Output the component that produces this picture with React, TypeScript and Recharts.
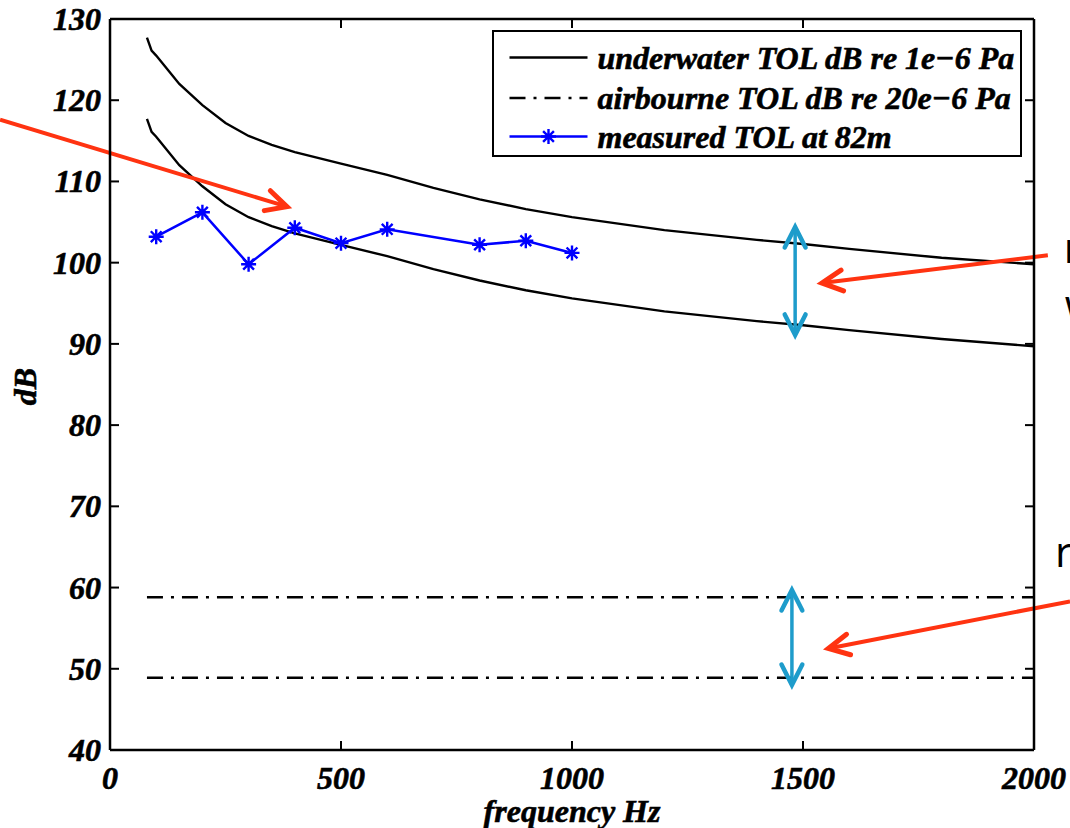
import React from 'react';
import { LineChart, Line, XAxis, YAxis, Legend, ReferenceLine, Label } from 'recharts';

// ---------- data ----------
const xTicks = [0, 500, 1000, 1500, 2000];
const yTicks = [40, 50, 60, 70, 80, 90, 100, 110, 120, 130];

const modelFreq = [80, 90, 100, 150, 200, 250, 300, 350, 400, 500, 600, 700, 800, 900, 1000, 1200, 1400, 1500, 1600, 1800, 2000];
const underwaterHigh = [127.7, 126.1, 125.5, 122.0, 119.4, 117.2, 115.6, 114.5, 113.6, 112.2, 110.8, 109.2, 107.8, 106.6, 105.6, 104.0, 102.8, 102.3, 101.7, 100.6, 99.8];
const underwaterLow = [117.7, 116.1, 115.5, 112.0, 109.4, 107.2, 105.6, 104.5, 103.6, 102.2, 100.8, 99.2, 97.8, 96.6, 95.6, 94.0, 92.8, 92.3, 91.7, 90.6, 89.7];

const airFreq = [80, 2000];
const airHigh = [58.8, 58.8];
const airLow = [48.9, 48.9];

const measFreq = [100, 200, 300, 400, 500, 600, 800, 900, 1000];
const measDb = [103.2, 106.2, 99.8, 104.3, 102.4, 104.1, 102.2, 102.7, 101.2];

const legendLabels = [
  'underwater TOL dB re 1e\u22126 Pa',
  'airbourne TOL dB re 20e\u22126 Pa',
  'measured TOL at 82m',
];

// annotation arrows (data coordinates: frequency Hz, dB)
const redArrows = [
  { from: { x: -238, y: 117.6 }, to: { x: 383, y: 106.9 }, texts: [] as { t: string; dx: number; dy: number }[] },
  { from: { x: 2030, y: 100.9 }, to: { x: 1541, y: 97.5 }, texts: [{ t: 'n', dx: 16, dy: 8 }, { t: 'w', dx: 17, dy: 65 }] },
  { from: { x: 2078, y: 58.3 }, to: { x: 1555, y: 52.5 }, texts: [{ t: 'r', dx: -15, dy: -34 }] },
];
const cyanArrows = [
  { from: { x: 1483, y: 91.1 }, to: { x: 1483, y: 104.4 } },
  { from: { x: 1476, y: 48.0 }, to: { x: 1476, y: 59.7 } },
];

// ---------- helpers ----------
const toPts = (xs: number[], ys: number[]) => xs.map((f, i) => ({ f, db: ys[i] }));

const FONT = "'Liberation Serif', 'Times New Roman', serif";
const tickText = {
  fontFamily: FONT,
  fontStyle: 'italic',
  fontWeight: 700,
  fontSize: 32,
  fill: '#000',
  stroke: '#000',
  strokeWidth: 0.6,
} as const;
const AIR_DASH = '16 8 3 8';

const XTick = (p: any) => (
  <g>
    <line x1={p.x} x2={p.x} y1={p.y} y2={p.y - 9} stroke="#000" strokeWidth={2} />
    <text x={p.x} y={p.y + 39} textAnchor="middle" style={tickText}>{p.payload.value}</text>
  </g>
);
const YTick = (p: any) => (
  <g>
    <line x1={p.x} x2={p.x + 9} y1={p.y} y2={p.y} stroke="#000" strokeWidth={2} />
    <text x={p.x - 9} y={p.y + 11} textAnchor="end" style={tickText}>{p.payload.value}</text>
  </g>
);
const TopTick = (p: any) => (
  <line x1={p.x} x2={p.x} y1={p.y} y2={p.y + 9} stroke="#000" strokeWidth={2} />
);
const RightTick = (p: any) => (
  <line x1={p.x} x2={p.x - 9} y1={p.y} y2={p.y} stroke="#000" strokeWidth={2} />
);

const starPath = (cx: number, cy: number, r: number) => {
  const d = r * 0.72;
  return `M${cx},${cy - r}L${cx},${cy + r}M${cx - r},${cy}L${cx + r},${cy}M${cx - d},${cy - d}L${cx + d},${cy + d}M${cx - d},${cy + d}L${cx + d},${cy - d}`;
};
const renderStar = (p: any) => (
  <path key={`star-${p.index}`} d={starPath(p.cx, p.cy, 7.5)} stroke="#0000ff" strokeWidth={2.4} fill="none" />
);

const headPath = (tx: number, ty: number, fx: number, fy: number, len: number, spread: number) => {
  const a = Math.atan2(fy - ty, fx - tx);
  return `M${tx + len * Math.cos(a + spread)},${ty + len * Math.sin(a + spread)}L${tx},${ty}L${tx + len * Math.cos(a - spread)},${ty + len * Math.sin(a - spread)}`;
};

const makeArrow = (color: string, doubleHead: boolean, texts: { t: string; dx: number; dy: number }[], w: number) => (p: any) => {
  const { x1, y1, x2, y2 } = p;
  return (
    <g>
      <line x1={x1} y1={y1} x2={x2} y2={y2} stroke={color} strokeWidth={w} />
      <path d={headPath(x2, y2, x1, y1, 23, 0.47)} stroke={color} strokeWidth={w + 1} fill="none" strokeLinecap="round" strokeLinejoin="miter" />
      {doubleHead && (
        <path d={headPath(x1, y1, x2, y2, 23, 0.47)} stroke={color} strokeWidth={w + 1} fill="none" strokeLinecap="round" strokeLinejoin="miter" />
      )}
      {texts.map((t, i) => (
        <text key={i} x={x1 + t.dx} y={y1 + t.dy} style={{ fontFamily: "'Open Sans', sans-serif", fontSize: 42, fill: '#000' }}>{t.t}</text>
      ))}
    </g>
  );
};

const LegendBox = () => {
  const rows = [25.5, 66, 104.5];
  return (
    <div style={{ width: 530, height: 127, boxSizing: 'border-box', border: '2.5px solid #000', background: '#fff' }}>
      <svg width={525} height={122} style={{ display: 'block' }}>
        {legendLabels.map((lab, i) => {
          const y = rows[i];
          const stroke = i === 2 ? '#0000ff' : '#000';
          return (
            <g key={lab}>
              <line x1={15.5} x2={93.5} y1={y} y2={y} stroke={stroke} strokeWidth={2.5} strokeDasharray={i === 1 ? AIR_DASH : undefined} />
              {i === 2 && <path d={starPath(54.5, y, 7.5)} stroke="#0000ff" strokeWidth={2.4} fill="none" />}
              <text x={103.5} y={y + 11} style={tickText}>{lab}</text>
            </g>
          );
        })}
      </svg>
    </div>
  );
};

export default function App() {
  return (
    <div style={{ position: 'absolute', left: 0, top: 0, width: 1070, height: 828, background: '#fff' }}>
      <LineChart width={1070} height={828} margin={{ top: 18, right: 35, bottom: 0, left: 0 }}>
        <XAxis
          dataKey="f"
          type="number"
          domain={[0, 2000]}
          ticks={xTicks}
          interval={0}
          height={78}
          allowDataOverflow
          axisLine={{ stroke: '#000', strokeWidth: 2.5 }}
          tickLine={false}
          tickSize={0}
          tickMargin={0}
          tick={<XTick />}
        >
          <Label value="frequency Hz" position="insideBottom" offset={6} style={tickText} />
        </XAxis>
        <XAxis
          xAxisId="top"
          orientation="top"
          dataKey="f"
          type="number"
          domain={[0, 2000]}
          ticks={xTicks}
          interval={0}
          height={1}
          allowDataOverflow
          axisLine={{ stroke: '#000', strokeWidth: 2.5 }}
          tickLine={false}
          tickSize={0}
          tickMargin={0}
          tick={<TopTick />}
        />
        <YAxis
          type="number"
          domain={[40, 130]}
          ticks={yTicks}
          interval={0}
          width={110}
          allowDataOverflow
          axisLine={{ stroke: '#000', strokeWidth: 2.5 }}
          tickLine={false}
          tickSize={0}
          tickMargin={0}
          tick={<YTick />}
        >
          <Label
            content={(p: any) => {
              const vb = p.viewBox || { x: 0, y: 19, width: 110, height: 731 };
              const x = vb.x + 36;
              const y = vb.y + vb.height / 2 + 2;
              return (
                <text x={x} y={y} transform={`rotate(-90, ${x}, ${y})`} textAnchor="middle" style={tickText}>
                  dB
                </text>
              );
            }}
          />
        </YAxis>
        <YAxis
          yAxisId="right"
          orientation="right"
          type="number"
          domain={[40, 130]}
          ticks={yTicks}
          interval={0}
          width={1}
          allowDataOverflow
          axisLine={{ stroke: '#000', strokeWidth: 2.5 }}
          tickLine={false}
          tickSize={0}
          tickMargin={0}
          tick={<RightTick />}
        />

        <Line data={toPts(modelFreq, underwaterHigh)} dataKey="db" type="linear" stroke="#000" strokeWidth={2.4} dot={false} isAnimationActive={false} />
        <Line data={toPts(modelFreq, underwaterLow)} dataKey="db" type="linear" stroke="#000" strokeWidth={2.4} dot={false} isAnimationActive={false} />
        <Line data={toPts(airFreq, airHigh)} dataKey="db" type="linear" stroke="#000" strokeWidth={2.4} strokeDasharray={AIR_DASH} dot={false} isAnimationActive={false} />
        <Line data={toPts(airFreq, airLow)} dataKey="db" type="linear" stroke="#000" strokeWidth={2.4} strokeDasharray={AIR_DASH} dot={false} isAnimationActive={false} />
        <Line data={toPts(measFreq, measDb)} dataKey="db" type="linear" stroke="#0000ff" strokeWidth={2.5} dot={renderStar} isAnimationActive={false} />
        {/* invisible series binding the frame axes (top / right) */}
        <Line xAxisId="top" yAxisId="right" data={toPts(measFreq, measDb)} dataKey="db" stroke="none" strokeWidth={0} dot={false} activeDot={false} legendType="none" isAnimationActive={false} />

        {cyanArrows.map((a, i) => (
          <ReferenceLine key={`c${i}`} segment={[a.from, a.to]} ifOverflow="visible" shape={makeArrow('#1e9ccb', true, [], 3.5)} />
        ))}
        {redArrows.map((a, i) => (
          <ReferenceLine key={`r${i}`} segment={[a.from, a.to]} ifOverflow="visible" shape={makeArrow('#ff3311', false, a.texts, 4)} />
        ))}

        <Legend
          layout="vertical"
          align="center"
          verticalAlign="middle"
          wrapperStyle={{ left: 492, top: 30, width: 530, height: 127 }}
          content={() => <LegendBox />}
        />
      </LineChart>
    </div>
  );
}
